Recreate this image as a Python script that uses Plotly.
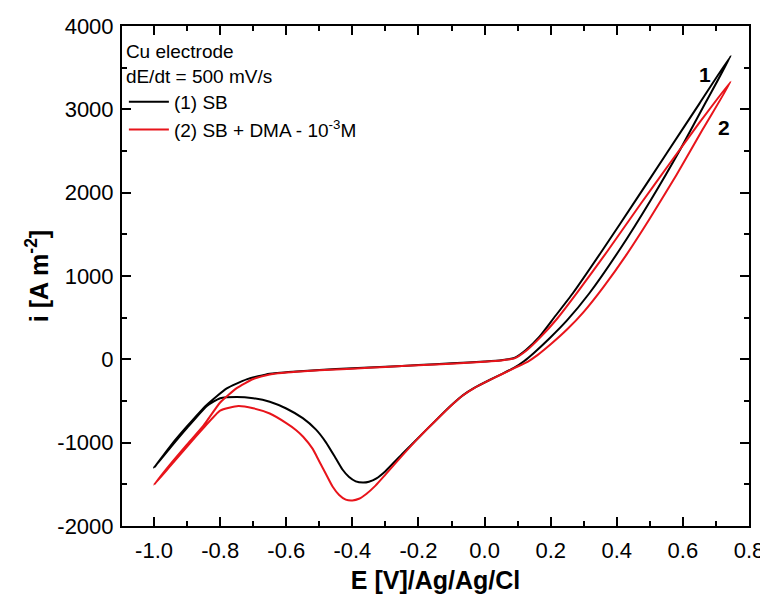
import plotly.graph_objects as go

# Curve (1) SB - closed CV loop, starting at the anodic vertex
e_sb = [0.745, 0.67, 0.594, 0.503, 0.408, 0.317, 0.25, 0.196, 0.15, 0.12, 0.09, 0.05, 0.015,
        -0.03, -0.066, -0.1, -0.15, -0.2, -0.25, -0.3, -0.327, -0.35, -0.368, -0.39,
        -0.41, -0.43, -0.45, -0.48, -0.51, -0.55, -0.6, -0.65, -0.7, -0.75, -0.8, -0.84,
        -0.9, -0.95, -1.0,
        -0.95, -0.9, -0.84, -0.78, -0.72, -0.65, -0.57, -0.5, -0.4, -0.3, -0.2, -0.1, 0.0,
        0.05, 0.09, 0.125, 0.166, 0.21, 0.267, 0.357, 0.458, 0.55, 0.65, 0.745]
i_sb = [3642, 3090, 2534, 1913, 1312, 793, 470, 250, 80, -20, -100, -180, -248,
        -340, -432, -549, -742, -940, -1139, -1342, -1428, -1469, -1479, -1464,
        -1413, -1322, -1190, -996, -844, -706, -590, -508, -467, -452, -467, -559,
        -823, -1057, -1301,
        -1037, -803, -544, -348, -240, -173, -146, -127, -107, -88, -69, -48, -25,
        -10, 16, 112, 272, 499, 793, 1312, 1913, 2467, 3069, 3642]

# Curve (2) SB + DMA 10^-3 M
e_dma = [0.745, 0.66, 0.58, 0.5, 0.43, 0.36, 0.3, 0.25, 0.2, 0.16, 0.13, 0.09, 0.05, 0.015,
         -0.03, -0.066, -0.1, -0.15, -0.2, -0.25, -0.3, -0.33, -0.357, -0.38, -0.4,
         -0.42, -0.44, -0.46, -0.48, -0.5, -0.52, -0.549, -0.57, -0.6, -0.65, -0.7, -0.745,
         -0.8, -0.85, -0.9, -0.95, -1.0,
         -0.95, -0.9, -0.85, -0.8, -0.75, -0.7, -0.65, -0.57, -0.5, -0.4, -0.3, -0.2, -0.1,
         0.0, 0.05, 0.09, 0.125, 0.17, 0.22, 0.28, 0.372, 0.473, 0.56, 0.65, 0.745]
i_dma = [3334, 2760, 2210, 1690, 1260, 870, 570, 360, 180, 50, -30, -105, -182, -250,
         -342, -434, -551, -744, -943, -1159, -1383, -1515, -1612, -1673, -1693,
         -1683, -1627, -1525, -1375, -1225, -1075, -929, -850, -765, -650, -588, -560,
         -615, -823, -1047, -1276, -1505,
         -1256, -1022, -793, -518, -345, -236, -181, -150, -132, -112, -91, -72, -52,
         -28, -13, 11, 100, 270, 490, 800, 1300, 1870, 2350, 2840, 3334]

series_names = ["(1) SB", "(2) SB + DMA - 10<sup>-3</sup>M"]
series_colors = ["#000000", "#e8141b"]

x_tick_vals = [-1.0, -0.8, -0.6, -0.4, -0.2, 0.0, 0.2, 0.4, 0.6, 0.8]
x_tick_text = ["-1.0", "-0.8", "-0.6", "-0.4", "-0.2", "0.0", "0.2", "0.4", "0.6", "0.8"]
y_tick_vals = [-2000, -1000, 0, 1000, 2000, 3000, 4000]
y_tick_text = ["-2000", "-1000", "0", "1000", "2000", "3000", "4000"]

curve_labels = ["1", "2"]
label_e = [0.668, 0.725]
label_i = [3413, 2785]

FONT = "Liberation Sans, Arial, sans-serif"

fig = go.Figure()
for e, i, name, col in zip([e_sb, e_dma], [i_sb, i_dma], series_names, series_colors):
    fig.add_trace(go.Scatter(x=e, y=i, mode="lines", name=name,
                             line=dict(color=col, width=2, shape="spline", smoothing=0.5)))

for t, xe, yi in zip(curve_labels, label_e, label_i):
    fig.add_annotation(x=xe, y=yi, text="<b>" + t + "</b>", showarrow=False,
                       font=dict(size=21, color="black", family=FONT))

axis_common = dict(showline=True, linecolor="black", linewidth=2, mirror="allticks",
                   ticks="inside", ticklen=9, tickwidth=2, tickcolor="black",
                   showgrid=False, zeroline=False, automargin=False,
                   tickfont=dict(size=22, color="black", family=FONT))

fig.update_xaxes(range=[-1.097, 0.8], tickvals=x_tick_vals, ticktext=x_tick_text,
                 minor=dict(dtick=0.1, ticks="inside", ticklen=5, tickwidth=2, tickcolor="black"),
                 ticklabelstandoff=4,
                 title=dict(text="<b>E [V]/Ag/Ag/Cl</b>", font=dict(size=25, color="black", family=FONT),
                            standoff=11),
                 **axis_common)
fig.update_yaxes(range=[-2000, 4000], tickvals=y_tick_vals, ticktext=y_tick_text,
                 minor=dict(dtick=500, ticks="inside", ticklen=5, tickwidth=2, tickcolor="black"),
                 ticklabelstandoff=2,
                 title=dict(text="<b>i [A m<sup>-2</sup>]</b>", font=dict(size=25, color="black", family=FONT),
                            standoff=2),
                 **axis_common)

fig.update_layout(
    width=760, height=586,
    margin=dict(l=114, r=19, t=18, b=68),
    plot_bgcolor="white", paper_bgcolor="white",
    font=dict(family=FONT, color="black"),
    showlegend=True,
    legend=dict(x=0.003, y=0.985, xanchor="left", yanchor="top",
                bgcolor="rgba(0,0,0,0)", borderwidth=0,
                font=dict(size=19, color="black", family=FONT),
                title=dict(text="Cu electrode<br>dE/dt = 500 mV/s",
                           font=dict(size=19, color="black", family=FONT)),
                tracegroupgap=2, itemwidth=40),
)

fig.write_html("out.html")
